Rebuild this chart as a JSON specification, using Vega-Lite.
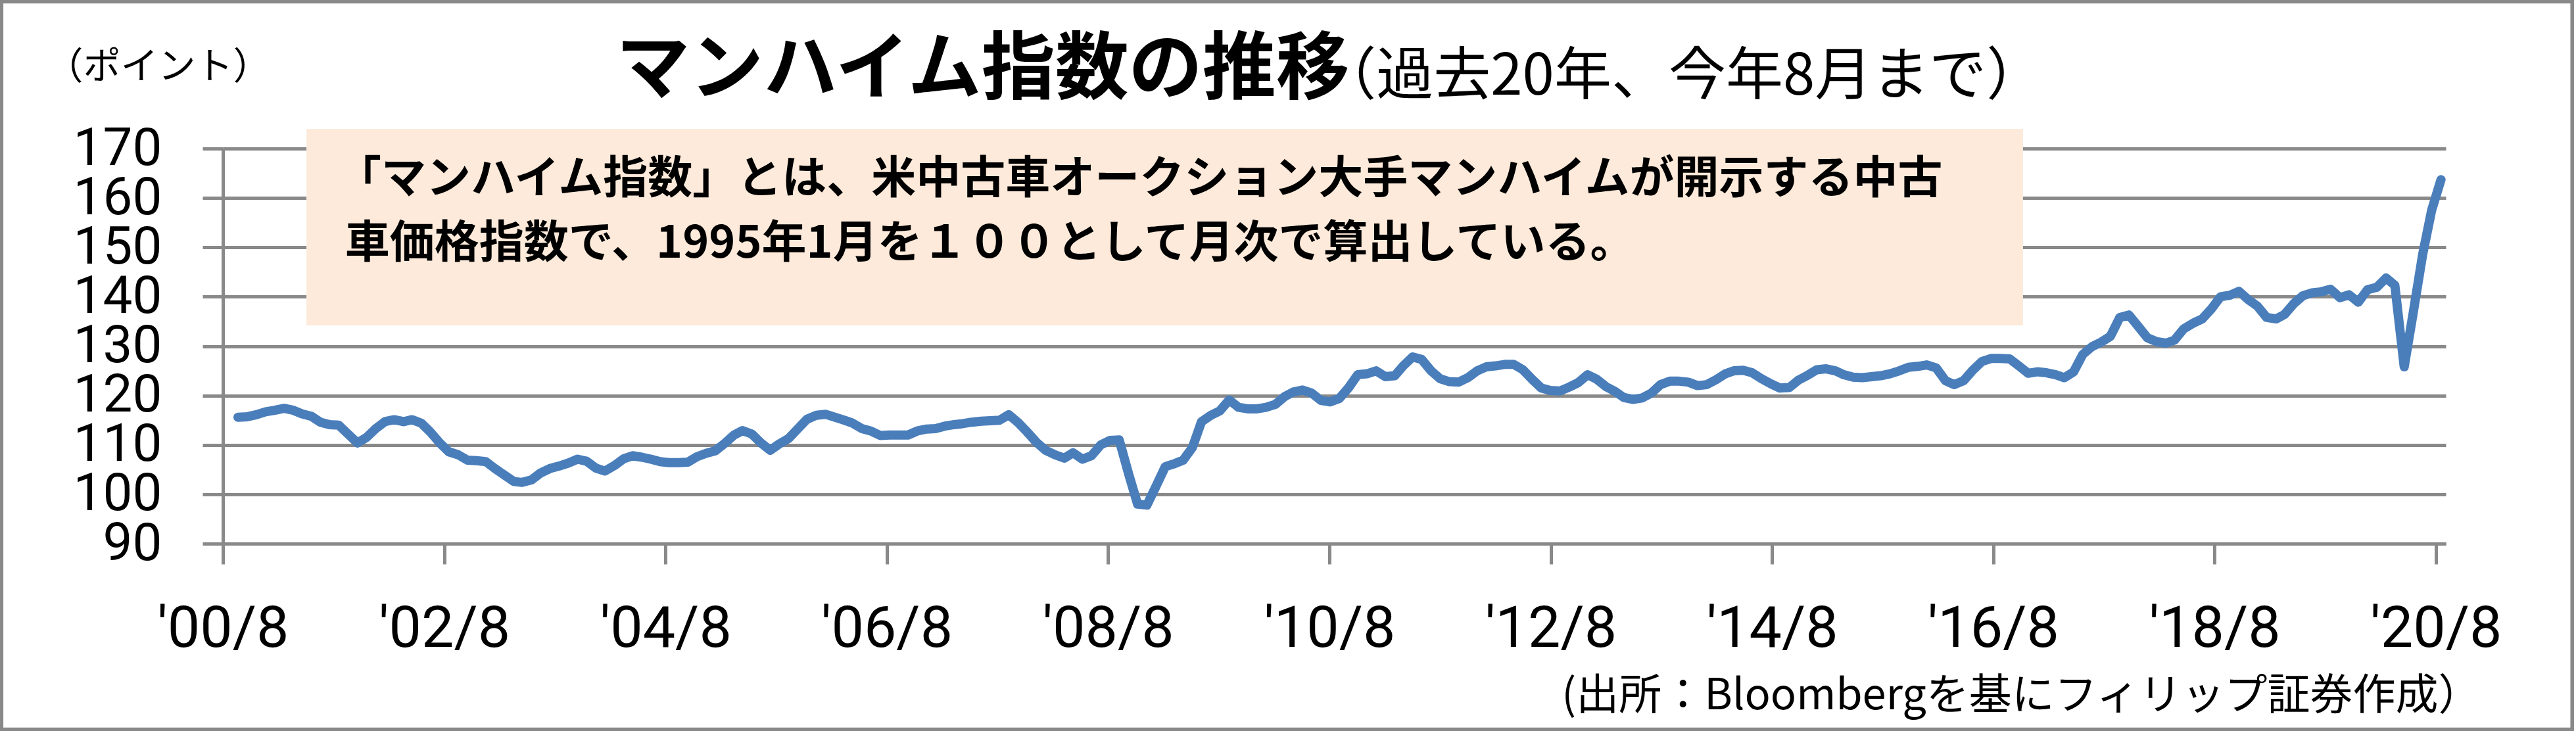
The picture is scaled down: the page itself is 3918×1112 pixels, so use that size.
{
  "$schema": "https://vega.github.io/schema/vega-lite/v6.json",
  "width": 3381,
  "height": 601,
  "autosize": {"type": "none"},
  "padding": {"left": 339, "top": 226, "right": 198, "bottom": 285},
  "background": "white",
  "config": {"view": {"stroke": null}, "font": "Noto Sans CJK JP"},
  "datasets": {
    "manheim": [
      {"m":"2000-08","v":115.6},{"m":"2000-09","v":115.7},{"m":"2000-10","v":116.1},{"m":"2000-11","v":116.7},{"m":"2000-12","v":117.0},
      {"m":"2001-01","v":117.4},{"m":"2001-02","v":117.0},{"m":"2001-03","v":116.3},{"m":"2001-04","v":115.8},{"m":"2001-05","v":114.6},{"m":"2001-06","v":114.1},{"m":"2001-07","v":114.0},{"m":"2001-08","v":112.2},{"m":"2001-09","v":110.4},{"m":"2001-10","v":111.5},{"m":"2001-11","v":113.3},{"m":"2001-12","v":114.7},
      {"m":"2002-01","v":115.1},{"m":"2002-02","v":114.7},{"m":"2002-03","v":115.1},{"m":"2002-04","v":114.4},{"m":"2002-05","v":112.6},{"m":"2002-06","v":110.4},{"m":"2002-07","v":108.6},{"m":"2002-08","v":108.0},{"m":"2002-09","v":106.9},{"m":"2002-10","v":106.8},{"m":"2002-11","v":106.6},{"m":"2002-12","v":105.2},
      {"m":"2003-01","v":103.9},{"m":"2003-02","v":102.6},{"m":"2003-03","v":102.4},{"m":"2003-04","v":102.9},{"m":"2003-05","v":104.3},{"m":"2003-06","v":105.2},{"m":"2003-07","v":105.7},{"m":"2003-08","v":106.3},{"m":"2003-09","v":107.1},{"m":"2003-10","v":106.7},{"m":"2003-11","v":105.3},{"m":"2003-12","v":104.7},
      {"m":"2004-01","v":105.8},{"m":"2004-02","v":107.2},{"m":"2004-03","v":107.8},{"m":"2004-04","v":107.5},{"m":"2004-05","v":107.1},{"m":"2004-06","v":106.6},{"m":"2004-07","v":106.4},{"m":"2004-08","v":106.4},{"m":"2004-09","v":106.5},{"m":"2004-10","v":107.6},{"m":"2004-11","v":108.3},{"m":"2004-12","v":108.8},
      {"m":"2005-01","v":110.3},{"m":"2005-02","v":112.0},{"m":"2005-03","v":112.9},{"m":"2005-04","v":112.2},{"m":"2005-05","v":110.4},{"m":"2005-06","v":108.9},{"m":"2005-07","v":110.2},{"m":"2005-08","v":111.3},{"m":"2005-09","v":113.3},{"m":"2005-10","v":115.2},{"m":"2005-11","v":116.0},{"m":"2005-12","v":116.2},
      {"m":"2006-01","v":115.6},{"m":"2006-02","v":115.0},{"m":"2006-03","v":114.4},{"m":"2006-04","v":113.3},{"m":"2006-05","v":112.8},{"m":"2006-06","v":111.9},{"m":"2006-07","v":112.0},{"m":"2006-08","v":112.0},{"m":"2006-09","v":112.0},{"m":"2006-10","v":112.8},{"m":"2006-11","v":113.2},{"m":"2006-12","v":113.3},
      {"m":"2007-01","v":113.8},{"m":"2007-02","v":114.1},{"m":"2007-03","v":114.3},{"m":"2007-04","v":114.6},{"m":"2007-05","v":114.8},{"m":"2007-06","v":114.9},{"m":"2007-07","v":115.0},{"m":"2007-08","v":116.1},{"m":"2007-09","v":114.5},{"m":"2007-10","v":112.6},{"m":"2007-11","v":110.5},{"m":"2007-12","v":108.9},
      {"m":"2008-01","v":108.0},{"m":"2008-02","v":107.3},{"m":"2008-03","v":108.4},{"m":"2008-04","v":107.1},{"m":"2008-05","v":107.8},{"m":"2008-06","v":110.0},{"m":"2008-07","v":110.9},{"m":"2008-08","v":111.0},{"m":"2008-09","v":104.2},{"m":"2008-10","v":98.0},{"m":"2008-11","v":97.8},{"m":"2008-12","v":101.6},
      {"m":"2009-01","v":105.6},{"m":"2009-02","v":106.2},{"m":"2009-03","v":106.9},{"m":"2009-04","v":109.5},{"m":"2009-05","v":114.7},{"m":"2009-06","v":116.0},{"m":"2009-07","v":116.9},{"m":"2009-08","v":119.1},{"m":"2009-09","v":117.6},{"m":"2009-10","v":117.3},{"m":"2009-11","v":117.3},{"m":"2009-12","v":117.6},
      {"m":"2010-01","v":118.2},{"m":"2010-02","v":119.8},{"m":"2010-03","v":120.7},{"m":"2010-04","v":121.1},{"m":"2010-05","v":120.5},{"m":"2010-06","v":119.0},{"m":"2010-07","v":118.7},{"m":"2010-08","v":119.4},{"m":"2010-09","v":121.6},{"m":"2010-10","v":124.2},{"m":"2010-11","v":124.4},{"m":"2010-12","v":125.0},
      {"m":"2011-01","v":123.8},{"m":"2011-02","v":124.0},{"m":"2011-03","v":126.0},{"m":"2011-04","v":127.8},{"m":"2011-05","v":127.3},{"m":"2011-06","v":125.0},{"m":"2011-07","v":123.4},{"m":"2011-08","v":122.8},{"m":"2011-09","v":122.7},{"m":"2011-10","v":123.6},{"m":"2011-11","v":125.0},{"m":"2011-12","v":125.8},
      {"m":"2012-01","v":126.0},{"m":"2012-02","v":126.3},{"m":"2012-03","v":126.3},{"m":"2012-04","v":125.2},{"m":"2012-05","v":123.3},{"m":"2012-06","v":121.5},{"m":"2012-07","v":121.0},{"m":"2012-08","v":120.9},{"m":"2012-09","v":121.7},{"m":"2012-10","v":122.6},{"m":"2012-11","v":124.2},{"m":"2012-12","v":123.3},
      {"m":"2013-01","v":121.8},{"m":"2013-02","v":120.8},{"m":"2013-03","v":119.6},{"m":"2013-04","v":119.2},{"m":"2013-05","v":119.5},{"m":"2013-06","v":120.5},{"m":"2013-07","v":122.2},{"m":"2013-08","v":122.9},{"m":"2013-09","v":122.9},{"m":"2013-10","v":122.7},{"m":"2013-11","v":122.0},{"m":"2013-12","v":122.2},
      {"m":"2014-01","v":123.2},{"m":"2014-02","v":124.4},{"m":"2014-03","v":125.0},{"m":"2014-04","v":125.1},{"m":"2014-05","v":124.6},{"m":"2014-06","v":123.4},{"m":"2014-07","v":122.4},{"m":"2014-08","v":121.5},{"m":"2014-09","v":121.6},{"m":"2014-10","v":123.1},{"m":"2014-11","v":124.1},{"m":"2014-12","v":125.2},
      {"m":"2015-01","v":125.4},{"m":"2015-02","v":125.0},{"m":"2015-03","v":124.2},{"m":"2015-04","v":123.7},{"m":"2015-05","v":123.6},{"m":"2015-06","v":123.8},{"m":"2015-07","v":124.0},{"m":"2015-08","v":124.4},{"m":"2015-09","v":125.0},{"m":"2015-10","v":125.7},{"m":"2015-11","v":125.9},{"m":"2015-12","v":126.2},
      {"m":"2016-01","v":125.6},{"m":"2016-02","v":123.0},{"m":"2016-03","v":122.2},{"m":"2016-04","v":123.0},{"m":"2016-05","v":125.1},{"m":"2016-06","v":126.9},{"m":"2016-07","v":127.5},{"m":"2016-08","v":127.5},{"m":"2016-09","v":127.4},{"m":"2016-10","v":126.0},{"m":"2016-11","v":124.5},{"m":"2016-12","v":124.8},
      {"m":"2017-01","v":124.6},{"m":"2017-02","v":124.2},{"m":"2017-03","v":123.6},{"m":"2017-04","v":124.8},{"m":"2017-05","v":128.3},{"m":"2017-06","v":129.9},{"m":"2017-07","v":130.8},{"m":"2017-08","v":132.0},{"m":"2017-09","v":135.8},{"m":"2017-10","v":136.3},{"m":"2017-11","v":134.0},{"m":"2017-12","v":131.7},
      {"m":"2018-01","v":130.9},{"m":"2018-02","v":130.6},{"m":"2018-03","v":131.2},{"m":"2018-04","v":133.5},{"m":"2018-05","v":134.6},{"m":"2018-06","v":135.5},{"m":"2018-07","v":137.5},{"m":"2018-08","v":140.0},{"m":"2018-09","v":140.3},{"m":"2018-10","v":141.1},{"m":"2018-11","v":139.4},{"m":"2018-12","v":138.1},
      {"m":"2019-01","v":135.8},{"m":"2019-02","v":135.5},{"m":"2019-03","v":136.4},{"m":"2019-04","v":138.6},{"m":"2019-05","v":140.2},{"m":"2019-06","v":140.8},{"m":"2019-07","v":141.0},{"m":"2019-08","v":141.5},{"m":"2019-09","v":139.8},{"m":"2019-10","v":140.4},{"m":"2019-11","v":138.9},{"m":"2019-12","v":141.4},
      {"m":"2020-01","v":141.9},{"m":"2020-02","v":143.8},{"m":"2020-03","v":142.3},{"m":"2020-04","v":125.8},{"m":"2020-05","v":136.8},{"m":"2020-06","v":148.5},{"m":"2020-07","v":157.5},{"m":"2020-08","v":163.7}
    ]
  },
  "layer": [
    {
      "data": {"name": "manheim"},
      "mark": {"type": "line", "color": "#4A7EBB", "strokeWidth": 14, "strokeJoin": "round", "strokeCap": "round"},
      "encoding": {
        "x": {
          "field": "m", "type": "temporal",
          "scale": {"domain": [{"year": 2000, "month": 6, "date": 12}, {"year": 2020, "month": 8, "date": 17}]},
          "axis": {
            "values": [
              {"year": 2000, "month": 6, "date": 12}, {"year": 2002, "month": 6, "date": 16},
              {"year": 2004, "month": 6, "date": 19}, {"year": 2006, "month": 6, "date": 22},
              {"year": 2008, "month": 6, "date": 25}, {"year": 2010, "month": 6, "date": 29},
              {"year": 2012, "month": 7, "date": 2}, {"year": 2014, "month": 7, "date": 6},
              {"year": 2016, "month": 7, "date": 8}, {"year": 2018, "month": 7, "date": 12},
              {"year": 2020, "month": 7, "date": 15}
            ],
            "labelExpr": "\"'\" + timeFormat(datum.value, '%y') + '/8'",
            "grid": false,
            "domain": true, "domainColor": "#898989", "domainWidth": 5,
            "ticks": true, "tickColor": "#898989", "tickWidth": 5, "tickSize": 31,
            "labelFont": "Roboto", "labelFontSize": 88, "labelColor": "black", "labelPadding": 55,
            "labelAngle": 0, "labelOverlap": false, "labelFlush": false, "labelLimit": 0,
            "title": "(出所：Bloombergを基にフィリップ証券作成）",
            "titleFont": "Noto Sans CJK JP", "titleFontSize": 65, "titleFontWeight": "normal", "titleColor": "black",
            "titleAlign": "right", "titleBaseline": "middle", "titleX": 3434, "titleY": 231, "titleLimit": 0
          }
        },
        "y": {
          "field": "v", "type": "quantitative",
          "scale": {"domain": [90, 170], "nice": false, "zero": false},
          "axis": {
            "values": [90, 100, 110, 120, 130, 140, 150, 160, 170],
            "grid": true, "gridColor": "#898989", "gridWidth": 5,
            "domain": true, "domainColor": "#898989", "domainWidth": 5,
            "ticks": true, "tickColor": "#898989", "tickWidth": 5, "tickSize": 31,
            "labelFont": "Roboto", "labelFontSize": 80, "labelColor": "black", "labelPadding": 62,
            "labelOverlap": false, "labelLimit": 0,
            "title": "（ポイント）", "titleAngle": 0, "titleAlign": "left", "titleBaseline": "middle",
            "titleX": -270, "titleY": -124, "titleLimit": 0,
            "titleFont": "Noto Sans CJK JP", "titleFontSize": 57, "titleFontWeight": "normal", "titleColor": "black"
          }
        }
      }
    },
    {
      "data": {"values": [{}]},
      "mark": {"type": "rect", "fill": "transparent", "stroke": "#898989", "strokeWidth": 5.5},
      "encoding": {
        "x": {"datum": {"year": 1998, "month": 6, "date": 9}, "type": "temporal"},
        "x2": {"datum": {"year": 2021, "month": 10, "date": 10}},
        "y": {"datum": 199.75, "type": "quantitative"},
        "y2": {"datum": 52.4}
      }
    },
    {
      "data": {"values": [{}]},
      "mark": {"type": "rect", "fill": "#FDEADA", "stroke": null},
      "encoding": {
        "x": {"datum": {"year": 2001, "month": 3, "date": 16}, "type": "temporal"},
        "x2": {"datum": {"year": 2016, "month": 10, "date": 15}},
        "y": {"datum": 173.99, "type": "quantitative"},
        "y2": {"datum": 134.19}
      }
    },
    {
      "data": {"values": [{}]},
      "mark": {"type": "text", "text": "「マンハイム指数」とは、米中古車オークション大手マンハイムが開示する中古", "font": "Noto Sans CJK JP", "fontSize": 68, "fontWeight": "bold", "align": "left", "baseline": "middle", "color": "black", "limit": 0},
      "encoding": {
        "x": {"datum": {"year": 2001, "month": 6, "date": 24}, "type": "temporal"},
        "y": {"datum": 163.61, "type": "quantitative"}
      }
    },
    {
      "data": {"values": [{}]},
      "mark": {"type": "text", "text": "車価格指数で、1995年1月を１００として月次で算出している。", "font": "Noto Sans CJK JP", "fontSize": 68, "fontWeight": "bold", "align": "left", "baseline": "middle", "color": "black", "limit": 0},
      "encoding": {
        "x": {"datum": {"year": 2001, "month": 7, "date": 22}, "type": "temporal"},
        "y": {"datum": 150.57, "type": "quantitative"}
      }
    },
    {
      "data": {"values": [{}]},
      "mark": {"type": "text", "text": "マンハイム指数の推移", "font": "Noto Sans CJK JP", "fontSize": 112, "fontWeight": "bold", "align": "left", "baseline": "middle", "color": "black", "limit": 0},
      "encoding": {
        "x": {"datum": {"year": 2004, "month": 1, "date": 7}, "type": "temporal"},
        "y": {"datum": 185.71, "type": "quantitative"}
      }
    },
    {
      "data": {"values": [{}]},
      "mark": {"type": "text", "text": "（過去20年、今年8月まで）", "font": "Noto Sans CJK JP", "fontSize": 87, "fontWeight": "normal", "align": "left", "baseline": "middle", "color": "black", "limit": 0},
      "encoding": {
        "x": {"datum": {"year": 2010, "month": 5, "date": 26}, "type": "temporal"},
        "y": {"datum": 184.38, "type": "quantitative"}
      }
    }
  ]
}
